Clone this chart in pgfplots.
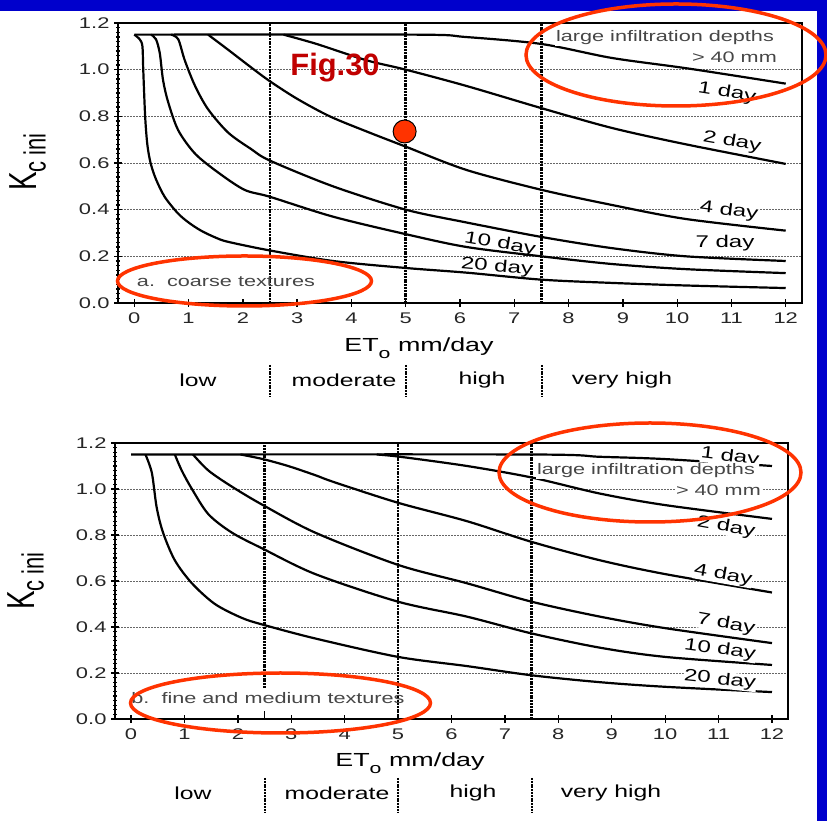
\documentclass[border=0pt]{standalone}
\usepackage{pgfplots}
\pgfplotsset{compat=1.18}
\usepackage{fontspec}
\setmainfont{Liberation Sans}[FakeStretch=1.42]
\newfontfamily\plainsans{Liberation Sans}
\definecolor{slideblue}{RGB}{0,0,204}
\definecolor{ellred}{RGB}{255,51,0}
\definecolor{figred}{RGB}{192,0,0}
\definecolor{txtgray}{RGB}{70,70,70}

\tikzset{vline/.style={black, line width=2.6bp, dash pattern=on 2bp off 0.8bp}}
\pgfplotsset{
  kc/.style={
    scale only axis,
    anchor=south west,
    xmin=-0.3, xmax=12.3, ymin=0, ymax=1.2,
    xtick={0,1,2,3,4,5,6,7,8,9,10,11,12},
    ytick={0,0.2,0.4,0.6,0.8,1.0,1.2},
    minor y tick num=9,
    tick pos=left,
    tick align=center,
    major tick length=8bp,
    minor tick length=4bp,
    every tick/.style={black, line width=1.3bp},
    axis line style={black, line width=2.8bp},
    ymajorgrids,
    major grid style={black!60, line width=0.9bp, dash pattern=on 2bp off 1bp},
    /pgf/number format/assume math mode=true,
    ticklabel style={font=\fontsize{15.5}{15.5}\selectfont, text=black!85},
    yticklabel style={/pgf/number format/fixed, /pgf/number format/fixed zerofill, /pgf/number format/precision=1, xshift=-1bp},
    xticklabel style={yshift=-2bp},
  },
  curve/.style={black, line width=2.2bp, smooth, tension=0.5, no marks},
}

\begin{document}
\begin{tikzpicture}[x=1bp,y=1bp]
\useasboundingbox (0,0) rectangle (827,821);
\fill[slideblue] (0,0) rectangle (827,821);
\fill[white] (0,0) rectangle (817,810);

% ---------------- top panel: coarse textures ----------------
\begin{axis}[kc, at={(118bp,518bp)}, width=684bp, height=280bp]
\draw[vline] (axis cs:2.5,0) -- (axis cs:2.5,1.2);
\draw[vline] (axis cs:5,0) -- (axis cs:5,1.2);
\draw[vline] (axis cs:7.5,0) -- (axis cs:7.5,1.2);
% 1 day
\addplot[curve] coordinates {(0,1.15) (5.2,1.15) (6.1,1.14) (7.5,1.11) (8.8,1.05) (10.2,1.005) (12,0.94)};
% 2 day
\addplot[curve] coordinates {(2.75,1.15) (3.36,1.11) (4.28,1.04) (5.0,1.0) (6.12,0.93) (7.5,0.835) (8.8,0.75) (10.16,0.68) (12,0.596)};
% 4 day
\addplot[curve] coordinates {(1.36,1.15) (1.73,1.085) (2.15,1.01) (2.5,0.95) (3.0,0.875) (3.6,0.80) (4.28,0.735) (5.0,0.67) (6.12,0.57) (7.5,0.485) (8.8,0.42) (10.16,0.36) (12,0.31)};
% 7 day
\addplot[curve] coordinates {(0.68,1.15) (0.81,1.13) (0.93,1.04) (1.12,0.93) (1.36,0.83) (1.73,0.73) (2.15,0.66) (2.5,0.61) (3.66,0.50) (5.0,0.40) (6.12,0.345) (7.5,0.283) (8.8,0.235) (10.16,0.20) (12,0.18)};
% 10 day
\addplot[curve] coordinates {(0.31,1.15) (0.40,1.13) (0.47,1.07) (0.53,0.955) (0.625,0.86) (0.81,0.74) (1.12,0.64) (1.54,0.56) (2.03,0.485) (2.5,0.455) (3.66,0.37) (5.0,0.295) (6.12,0.24) (7.5,0.20) (8.8,0.167) (10.16,0.145) (12,0.128)};
% 20 day
\addplot[curve] coordinates {(0,1.15) (0.10,1.13) (0.15,1.10) (0.165,1.0) (0.2,0.8) (0.24,0.68) (0.3,0.60) (0.4,0.53) (0.56,0.455) (0.8,0.385) (1.0,0.345) (1.23,0.31) (1.5,0.28) (1.73,0.262) (2.5,0.225) (3.66,0.18) (5.0,0.15) (6.12,0.13) (7.5,0.10) (8.8,0.086) (10.16,0.075) (12,0.064)};
% marked point
\addplot[only marks, mark=*, mark size=11.5bp, mark options={fill=ellred, draw=black, line width=1bp}] coordinates {(4.98,0.735)};
\end{axis}

% ---------------- bottom panel: fine and medium textures ----------------
\begin{axis}[kc, at={(115bp,102bp)}, width=673bp, height=276bp]
\draw[vline] (axis cs:2.5,0.135) -- (axis cs:2.5,1.2);
\draw[black, line width=1.4bp] (axis cs:2.5,0) -- (axis cs:2.5,0.035);
\draw[vline] (axis cs:5,0) -- (axis cs:5,1.2);
\draw[vline] (axis cs:7.5,0) -- (axis cs:7.5,1.2);
% 1 day
\addplot[curve] coordinates {(0,1.15) (7.5,1.15) (8.78,1.14) (10,1.13) (12,1.10)};
% 2 day
\addplot[curve] coordinates {(4.6,1.15) (5.04,1.14) (6.29,1.10) (7.5,1.05) (8.78,0.98) (10,0.93) (12,0.87)};
% 4 day
\addplot[curve] coordinates {(2.05,1.15) (2.47,1.13) (2.94,1.10) (3.45,1.06) (3.8,1.03) (5.0,0.94) (6.29,0.86) (7.5,0.77) (8.78,0.69) (10,0.63) (12,0.55)};
% 7 day
\addplot[curve] coordinates {(1.16,1.15) (1.45,1.08) (1.89,1.01) (2.47,0.93) (3.45,0.81) (5.0,0.67) (6.29,0.59) (7.5,0.51) (8.78,0.445) (10,0.395) (12,0.33)};
% 10 day
\addplot[curve] coordinates {(0.82,1.15) (0.95,1.08) (1.14,1.0) (1.45,0.89) (1.89,0.81) (2.47,0.74) (3.45,0.63) (5.0,0.51) (6.29,0.445) (7.5,0.372) (8.78,0.31) (10,0.27) (12,0.235)};
% 20 day
\addplot[curve] coordinates {(0.27,1.15) (0.39,1.07) (0.48,0.92) (0.6,0.81) (0.82,0.69) (1.14,0.59) (1.57,0.50) (2.07,0.44) (2.47,0.41) (3.45,0.35) (5.0,0.27) (6.29,0.23) (7.5,0.19) (8.78,0.16) (10,0.14) (12,0.117)};
\end{axis}

% ---------------- text: top panel ----------------
\node[rotate=90, inner sep=0] at (28,659) {\scalebox{1}[1.4]{\plainsans\fontsize{28}{28}\selectfont K\raisebox{-0.22em}{\fontsize{22}{22}\selectfont c ini}}};
\node[font=\fontsize{19}{19}\selectfont] at (419,473) {ET\raisebox{-0.35em}{\fontsize{15}{15}\selectfont o} mm/day};
\node[font=\fontsize{17.5}{17.5}\selectfont] at (198,441) {low};
\node[font=\fontsize{17.5}{17.5}\selectfont] at (344,441) {moderate};
\node[font=\fontsize{17.5}{17.5}\selectfont] at (482,441) {high};
\node[font=\fontsize{17.5}{17.5}\selectfont] at (622,441) {very high};
\draw[vline, line width=2bp] (270,456) -- (270,424);
\draw[vline, line width=2bp] (406,456) -- (406,424);
\draw[vline, line width=2bp] (542,456) -- (542,424);

\node[font=\fontsize{17}{17}\selectfont, rotate=-9, fill=white, inner sep=0.5bp] at (727,728) {1 day};
\node[font=\fontsize{17}{17}\selectfont, rotate=-10, fill=white, inner sep=0.5bp] at (732,679) {2 day};
\node[font=\fontsize{17}{17}\selectfont, rotate=-7, fill=white, inner sep=0.5bp] at (729,610) {4 day};
\node[font=\fontsize{17}{17}\selectfont, fill=white, inner sep=0.5bp] at (725,578) {7 day};
\node[font=\fontsize{17}{17}\selectfont, rotate=-10, inner sep=0.5bp] at (500,577) {10 day};
\node[font=\fontsize{17}{17}\selectfont, rotate=-5, inner sep=0.5bp] at (497,554) {20 day};
\node[font=\fontsize{15.3}{15.3}\selectfont, text=txtgray, fill=white, inner sep=1bp] at (665,783) {large infiltration depths};
\node[font=\fontsize{15.3}{15.3}\selectfont, text=txtgray, fill=white, inner sep=1bp, anchor=east] at (778,764) {> 40 mm};
\node[font=\fontsize{15.3}{15.3}\selectfont, text=txtgray] at (226,539) {a.\ \ coarse textures};
\node[text=figred] at (335,753) {\plainsans\bfseries\fontsize{31}{31}\selectfont Fig.30};

% ---------------- text: bottom panel ----------------
\node[rotate=90, inner sep=0] at (26,240) {\scalebox{1}[1.4]{\plainsans\fontsize{28}{28}\selectfont K\raisebox{-0.22em}{\fontsize{22}{22}\selectfont c ini}}};
\node[font=\fontsize{19}{19}\selectfont] at (410,58) {ET\raisebox{-0.35em}{\fontsize{15}{15}\selectfont o} mm/day};
\node[font=\fontsize{17.5}{17.5}\selectfont] at (193,28) {low};
\node[font=\fontsize{17.5}{17.5}\selectfont] at (337,28) {moderate};
\node[font=\fontsize{17.5}{17.5}\selectfont] at (473,28) {high};
\node[font=\fontsize{17.5}{17.5}\selectfont] at (611,28) {very high};
\draw[vline, line width=2bp] (264.5,43) -- (264.5,9);
\draw[vline, line width=2bp] (398,43) -- (398,9);
\draw[vline, line width=2bp] (531.5,43) -- (531.5,9);

\node[font=\fontsize{17}{17}\selectfont, rotate=-7, fill=white, inner sep=0.5bp] at (730,364) {1 day};
\node[font=\fontsize{15.3}{15.3}\selectfont, text=txtgray, fill=white, inner sep=1bp] at (646,350) {large infiltration depths};
\node[font=\fontsize{15.3}{15.3}\selectfont, text=txtgray, fill=white, inner sep=1bp, anchor=east] at (762,331) {> 40 mm};
\node[font=\fontsize{17}{17}\selectfont, rotate=-10, fill=white, inner sep=0.5bp] at (726,294) {2 day};
\node[font=\fontsize{17}{17}\selectfont, rotate=-10, fill=white, inner sep=0.5bp] at (723,246) {4 day};
\node[font=\fontsize{17}{17}\selectfont, rotate=-10, fill=white, inner sep=0.5bp] at (726,197) {7 day};
\node[font=\fontsize{17}{17}\selectfont, rotate=-8, fill=white, inner sep=0.5bp] at (720,171) {10 day};
\node[font=\fontsize{17}{17}\selectfont, rotate=-6, fill=white, inner sep=0.5bp] at (720,141) {20 day};
\node[font=\fontsize{15.3}{15.3}\selectfont, text=txtgray] at (268,123) {b.\ \ fine and medium textures};

% ---------------- annotations ----------------
\draw[ellred, line width=3.5bp] (676,766) ellipse [x radius=150, y radius=51];
\draw[ellred, line width=3.5bp] (244.5,540) ellipse [x radius=127, y radius=25];
\draw[ellred, line width=3.5bp] (650,348.5) ellipse [x radius=151, y radius=49.5];
\draw[ellred, line width=3.5bp] (280.5,118) ellipse [x radius=150, y radius=30];
\end{tikzpicture}
\end{document}
